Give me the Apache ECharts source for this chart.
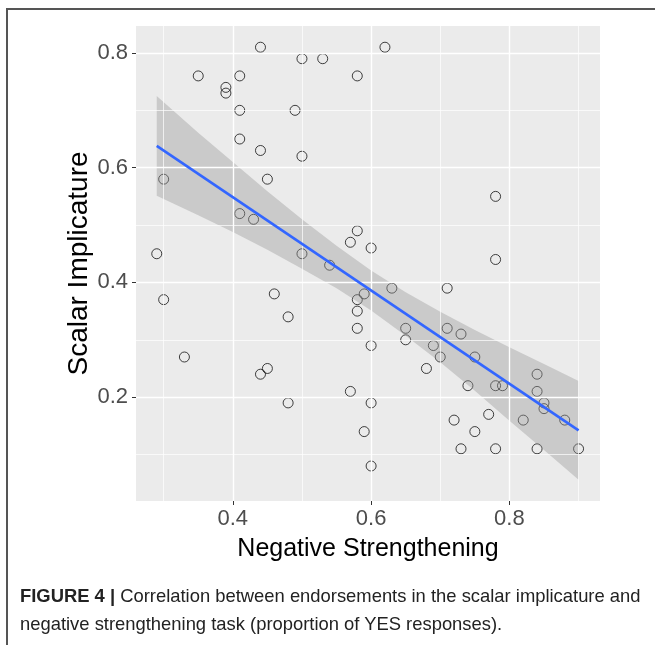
<!DOCTYPE html>
<html>
<head>
<meta charset="utf-8">
<script src="https://cdn.jsdelivr.net/npm/echarts@6/dist/echarts.min.js"></script>
<style>
  html, body { margin: 0; padding: 0; background: #fff; }
  #chart { position: absolute; left: 0; top: 0; width: 655px; height: 645px; }
  .frame {
    position: absolute; left: 6px; top: 8px; right: 0; bottom: 0;
    border-top: 2px solid #555; border-left: 2px solid #555;
    pointer-events: none;
  }
  .caption {
    position: absolute; left: 20px; top: 582px;
    font-family: "Liberation Sans", Arial, sans-serif;
    font-size: 18.4px; line-height: 28px; color: #222; white-space: nowrap;
  }
</style>
</head>
<body>
<div id="chart"></div>
<div class="frame"></div>
<div class="caption"><b>FIGURE 4 |</b> Correlation between endorsements in the scalar implicature and<br>negative strengthening task (proportion of YES responses).</div>
<script>
// points
const negStrength = [
  0.44, 0.50, 0.53, 0.35, 0.41, 0.58, 0.39, 0.39, 0.41, 0.49, 0.41, 0.44, 0.50, 0.30, 0.45, 0.41, 0.43, 0.58, 0.57, 0.60,
  0.62, 0.78,
  0.29, 0.30, 0.33, 0.46, 0.48, 0.45, 0.44, 0.48, 0.50, 0.54, 0.58, 0.59, 0.58, 0.58, 0.60, 0.57, 0.60, 0.59, 0.60,
  0.78, 0.63, 0.71, 0.65, 0.65, 0.71, 0.73, 0.69, 0.70, 0.75, 0.68, 0.74, 0.78, 0.79, 0.84, 0.84, 0.85, 0.85, 0.77,
  0.82, 0.88, 0.72, 0.75, 0.73, 0.78, 0.84, 0.90
];
const scalarImp = [
  0.81, 0.79, 0.79, 0.76, 0.76, 0.76, 0.74, 0.73, 0.70, 0.70, 0.65, 0.63, 0.62, 0.58, 0.58, 0.52, 0.51, 0.49, 0.47, 0.46,
  0.81, 0.55,
  0.45, 0.37, 0.27, 0.38, 0.34, 0.25, 0.24, 0.19, 0.45, 0.43, 0.37, 0.38, 0.35, 0.32, 0.29, 0.21, 0.19, 0.14, 0.08,
  0.44, 0.39, 0.39, 0.32, 0.30, 0.32, 0.31, 0.29, 0.27, 0.27, 0.25, 0.22, 0.22, 0.22, 0.24, 0.21, 0.19, 0.18, 0.17,
  0.16, 0.16, 0.16, 0.14, 0.11, 0.11, 0.11, 0.11
];

// fitted line ends and confidence band
const fitX = [0.29, 0.90];
const fitY = [0.638, 0.142];
const bandX = [0.29, 0.35, 0.40, 0.45, 0.50, 0.55, 0.60, 0.65, 0.70, 0.75, 0.80, 0.85, 0.90];
const bandUpper = [0.725, 0.661, 0.610, 0.559, 0.510, 0.464, 0.421, 0.383, 0.349, 0.317, 0.287, 0.258, 0.228];
const bandLower = [0.551, 0.517, 0.488, 0.457, 0.424, 0.390, 0.351, 0.307, 0.261, 0.211, 0.159, 0.108, 0.056];

// axis ticks
const xTicks = [0.4, 0.6, 0.8];
const xMinor = [0.3, 0.5, 0.7, 0.9];
const yTicks = [0.2, 0.4, 0.6, 0.8];
const yMinor = [0.1, 0.3, 0.5, 0.7];

const chart = echarts.init(document.getElementById("chart"));

const font = "Liberation Sans";
const gridLines = [];
xTicks.forEach((v) => gridLines.push({ xAxis: v, lineStyle: { width: 1.4 } }));
xMinor.forEach((v) => gridLines.push({ xAxis: v, lineStyle: { width: 0.7 } }));
yTicks.forEach((v) => gridLines.push({ yAxis: v, lineStyle: { width: 1.4 } }));
yMinor.forEach((v) => gridLines.push({ yAxis: v, lineStyle: { width: 0.7 } }));

const option = {
  animation: false,
  grid: {
    left: 136, top: 26, width: 464, height: 475,
    show: true, backgroundColor: "#EBEBEB", borderWidth: 0,
  },
  xAxis: {
    type: "value",
    min: 0.26, max: 0.931,
    name: "Negative Strengthening",
    nameLocation: "middle",
    nameGap: 36,
    nameMoveOverlap: false,
    nameTextStyle: { fontFamily: font, fontSize: 25, color: "#000" },
    axisLine: { show: false },
    splitLine: { show: false },
    axisTick: { show: true, length: 4, lineStyle: { color: "#333", width: 1 }, customValues: xTicks },
    axisLabel: {
      customValues: xTicks, fontFamily: font, fontSize: 22, color: "#4D4D4D", margin: 7,
      formatter: (v) => v.toFixed(1),
    },
  },
  yAxis: {
    type: "value",
    min: 0.019, max: 0.847,
    name: "Scalar Implicature",
    nameLocation: "middle",
    nameGap: 43,
    nameMoveOverlap: false,
    nameTextStyle: { fontFamily: font, fontSize: 28, color: "#000" },
    axisLine: { show: false },
    splitLine: { show: false },
    axisTick: { show: true, length: 4, lineStyle: { color: "#333", width: 1 }, customValues: yTicks },
    axisLabel: {
      customValues: yTicks, fontFamily: font, fontSize: 22, color: "#4D4D4D", margin: 8,
      formatter: (v) => v.toFixed(1),
    },
  },
  series: [
    {
      // panel grid lines
      type: "line",
      data: [],
      z: 1,
      silent: true,
      markLine: {
        silent: true,
        symbol: ["none", "none"],
        label: { show: false },
        lineStyle: { color: "#fff", type: "solid" },
        data: gridLines,
      },
    },
    {
      type: "scatter",
      data: negStrength.map((x, i) => [x, scalarImp[i]]),
      symbol: "circle",
      symbolSize: 10,
      itemStyle: { color: "rgba(0,0,0,0)", borderColor: "#111", borderWidth: 1 },
      z: 3,
    },
    {
      type: "custom",
      data: [[bandX[0], bandUpper[0]]],
      silent: true,
      z: 4,
      renderItem: (params, api) => {
        const pts = [];
        bandX.forEach((x, i) => pts.push(api.coord([x, bandUpper[i]])));
        for (let i = bandX.length - 1; i >= 0; i--) pts.push(api.coord([bandX[i], bandLower[i]]));
        return { type: "polygon", shape: { points: pts }, style: { fill: "rgba(153,153,153,0.4)" } };
      },
    },
    {
      type: "line",
      data: fitX.map((x, i) => [x, fitY[i]]),
      symbol: "none",
      lineStyle: { color: "#3366FF", width: 2.6 },
      z: 5,
    },
  ],
};
chart.setOption(option);
</script>
</body>
</html>
